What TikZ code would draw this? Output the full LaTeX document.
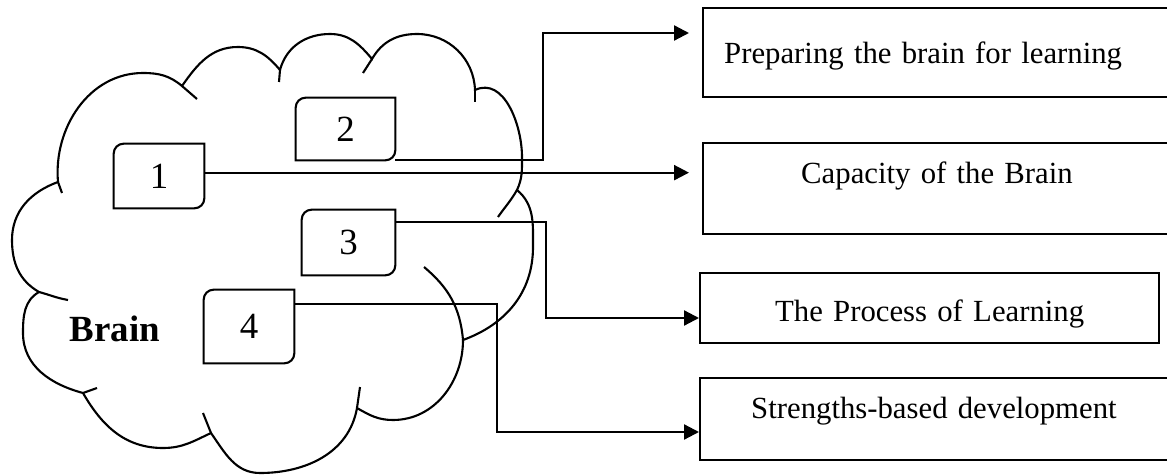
\documentclass[tikz,border=0pt]{standalone}
\usepackage{fontspec}
\setmainfont{Liberation Serif}
\usetikzlibrary{arrows.meta}

% frame with rounded top-left and bottom-right corners
\newcommand{\snipframe}[1]{%
  \draw[cloudline] (#1.north east) -- ([yshift=0.2cm]#1.south east)
    arc[start angle=0, end angle=-90, radius=0.2cm] -- (#1.south west)
    -- ([yshift=-0.2cm]#1.north west)
    arc[start angle=180, end angle=90, radius=0.2cm] -- cycle;}

\begin{document}
\begin{tikzpicture}[x=0.02cm, y=0.02cm,
    cloudline/.style={line width=1.2pt},
    numbox/.style={inner sep=0pt, font=\fontsize{21}{24}\selectfont},
    outbox/.style={draw, line width=1.4pt, inner ysep=0pt, anchor=south west, font=\fontsize{17.5}{21}\selectfont},
    arrowline/.style={line width=1.3pt, -{Triangle[length=0.3cm, width=0.3cm]}}]
    \useasboundingbox (0,0) rectangle (1167,474);
    \clip (0,0) rectangle (1167,474);
    % Cloud outline
    \draw[cloudline] (58,292) to[out=95,in=180] (143,401) to[out=0,in=140] (182,388)
        to[out=55,in=180] (238,427) to[out=0,in=130] (280,404)
        to[out=75,in=180] (330,440) to[out=0,in=130] (372,415)
        to[out=60,in=180] (417,440) to[out=0,in=92] (475,384)
        to[out=25,in=90] (522,317) to[out=-90,in=65] (517,284)
        to[out=-40,in=90] (533,227) to[out=-90,in=20] (463,134)
        to[out=-90,in=0] (393,54) to[out=180,in=-30] (357,66)
        to[out=-100,in=0] (260,1) to[out=180,in=-55] (211,41)
        to[out=-155,in=0] (163,26) to[out=180,in=-60] (83,81)
        to[out=165,in=-90] (23,141) to[out=90,in=-150] (39,182)
        to[out=150,in=-90] (12,234) to[out=90,in=200] (58,292);
    % Inner hooks
    \draw[cloudline] (58,292) -- (62,281);
    \draw[cloudline] (182,388) -- (197,375);
    \draw[cloudline] (280,404) -- (279,392);
    \draw[cloudline] (372,415) -- (363,401);
    \draw[cloudline] (475,384) -- (475,372);
    \draw[cloudline] (517,284) to[out=-120,in=55] (498,257);
    \draw[cloudline] (424,207) to[out=-40,in=95] (463,134);
    \draw[cloudline] (357,66) -- (360,87);
    \draw[cloudline] (211,41) -- (203,61);
    \draw[cloudline] (83,81) -- (97,86);
    \draw[cloudline] (39,182) to[out=-15,in=170] (68,174);
    \node[font=\bfseries\fontsize{21}{24}\selectfont, anchor=base] (brainlbl) at (115,133) {Brain};
    % Numbered boxes
    \node[numbox, minimum width=1.8cm, minimum height=1.28cm] (box1) at (159,298) {1};
    \node[numbox, minimum width=1.98cm, minimum height=1.24cm] (box2) at (345.5,345) {2};
    \node[numbox, minimum width=1.86cm, minimum height=1.3cm] (box3) at (348.5,231.5) {3};
    \node[numbox, minimum width=1.8cm, minimum height=1.46cm] (box4) at (249,147.5) {4};
    \snipframe{box1}
    \snipframe{box2}
    \snipframe{box3}
    \snipframe{box4}
    % Topic boxes
    \node[outbox, inner xsep=0.42cm, text width=9.12cm, align=left, text height=1.12cm, text depth=0.66cm] (prepA) at (702,376) {Preparing the brain for learning};
    \node[outbox, inner xsep=1.96cm, text width=6.04cm, align=left, text height=0.82cm, text depth=1cm] (capB) at (702,239) {Capacity of the Brain};
    \node[outbox, inner xsep=0.2cm, text width=8.78cm, align=center, text height=0.98cm, text depth=0.42cm] (procC) at (699,130) {The Process of Learning};
    \node[outbox, inner xsep=1.02cm, text width=7.98cm, align=left, text height=0.82cm, text depth=0.82cm] (strD) at (699,13) {Strengths-based development};
    % Connectors
    \coordinate (o1) at ([yshift=-0.58cm]box1.north east);
    \coordinate (o3) at ([yshift=-0.24cm]box3.north east);
    \coordinate (o4) at ([yshift=-0.28cm]box4.north east);
    \coordinate (c2) at (543,441);
    \coordinate (c3) at (546,156);
    \coordinate (c4) at (497,42);
    \draw[arrowline, shorten >=0.26cm] (o1) -- (o1 -| capB.west);
    \draw[arrowline, shorten >=0.26cm] (box2.south east) -| (c2) -- (c2 -| prepA.west);
    \draw[arrowline] (o3) -| (c3) -- (c3 -| procC.west);
    \draw[arrowline] (o4) -| (c4) -- (c4 -| strD.west);
\end{tikzpicture}
\end{document}
